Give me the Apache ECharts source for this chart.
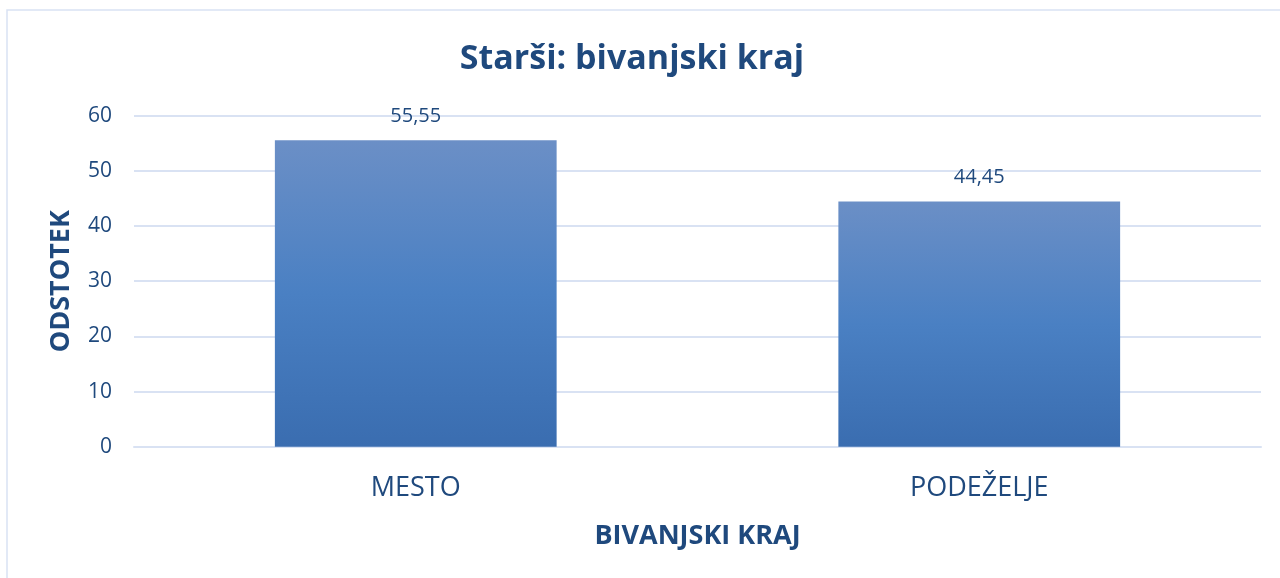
<!DOCTYPE html>
<html>
<head>
<meta charset="utf-8">
<script src="https://cdn.jsdelivr.net/npm/echarts@6/dist/echarts.min.js"></script>
<style>html,body{margin:0;padding:0;background:#fff}#c{width:1280px;height:578px}</style>
</head>
<body>
<div id="c"></div>
<script>
const titleText = 'Starši: bivanjski kraj';
const categories = ['MESTO', 'PODEŽELJE'];
const values = [55.55, 44.45];
const yTicks = [0, 10, 20, 30, 40, 50, 60];
const xAxisName = 'BIVANJSKI KRAJ';
const yAxisName = 'ODSTOTEK';

const textColor = '#1F497D';
const font = 'Open Sans';
const chart = echarts.init(document.getElementById('c'), null, {renderer: 'canvas'});
chart.setOption({
  backgroundColor: '#fff',
  animation: false,
  title: {
    text: titleText,
    left: 627,
    textAlign: 'center',
    top: 37,
    textStyle: {fontFamily: font, fontWeight: 'bold', fontSize: 34, color: textColor}
  },
  graphic: [{
    type: 'rect',
    shape: {x: 7, y: 10, width: 1300, height: 620},
    style: {fill: 'none', stroke: '#D9E2F3', lineWidth: 1.5},
    silent: true
  }],
  grid: {left: 134, right: 19, top: 115.7, bottom: 131.3},
  xAxis: {
    type: 'category',
    data: categories,
    axisLine: {show: true, lineStyle: {color: '#D9E2F3', width: 2}},
    axisTick: {show: false},
    axisLabel: {fontFamily: font, fontSize: 27, color: textColor, margin: 28},
    name: xAxisName,
    nameLocation: 'middle',
    nameGap: 76,
    nameTextStyle: {fontFamily: font, fontWeight: 'bold', fontSize: 27, color: textColor}
  },
  yAxis: {
    type: 'value',
    min: yTicks[0],
    max: yTicks[yTicks.length - 1],
    interval: yTicks[1] - yTicks[0],
    axisLine: {show: false},
    axisTick: {show: false},
    splitLine: {lineStyle: {color: '#D9E2F3', width: 2}},
    axisLabel: {fontFamily: font, fontSize: 21, color: textColor, margin: 22},
    name: yAxisName,
    nameLocation: 'middle',
    nameGap: 59,
    nameRotate: 90,
    nameTextStyle: {fontFamily: font, fontWeight: 'bold', fontSize: 27, color: textColor}
  },
  series: [{
    type: 'bar',
    data: values,
    barWidth: '50%',
    itemStyle: {
      color: new echarts.graphic.LinearGradient(0, 0, 0, 1, [
        {offset: 0, color: '#6B8FC6'},
        {offset: 0.5, color: '#4A80C3'},
        {offset: 1, color: '#3A6DB0'}
      ])
    },
    label: {
      show: true,
      position: 'top',
      distance: 14,
      fontFamily: font,
      fontSize: 20,
      color: textColor,
      formatter: p => String(p.value).replace('.', ',')
    }
  }]
});
</script>
</body>
</html>
